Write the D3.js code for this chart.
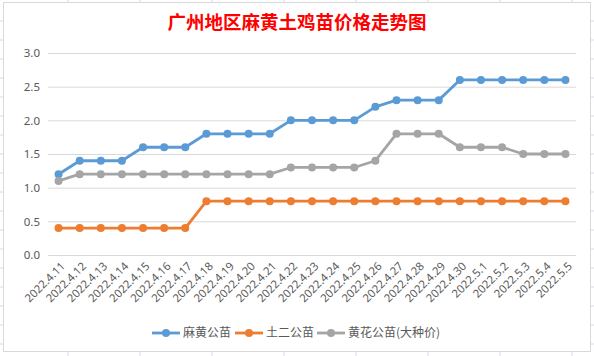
<!DOCTYPE html>
<html>
<head>
<meta charset="utf-8">
<script src="https://cdn.jsdelivr.net/npm/d3@7/dist/d3.min.js"></script>
<style>
  html, body { margin: 0; padding: 0; background: #fff; }
  svg { display: block; }
</style>
</head>
<body>
<svg id="chart" width="594" height="356"></svg>
<script>
// ---- data ----
const dates = ["2022.4.11","2022.4.12","2022.4.13","2022.4.14","2022.4.15","2022.4.16","2022.4.17","2022.4.18","2022.4.19","2022.4.20","2022.4.21","2022.4.22","2022.4.23","2022.4.24","2022.4.25","2022.4.26","2022.4.27","2022.4.28","2022.4.29","2022.4.30","2022.5.1","2022.5.2","2022.5.3","2022.5.4","2022.5.5"];
const mahuang = [1.2,1.4,1.4,1.4,1.6,1.6,1.6,1.8,1.8,1.8,1.8,2.0,2.0,2.0,2.0,2.2,2.3,2.3,2.3,2.6,2.6,2.6,2.6,2.6,2.6];
const tuer    = [0.4,0.4,0.4,0.4,0.4,0.4,0.4,0.8,0.8,0.8,0.8,0.8,0.8,0.8,0.8,0.8,0.8,0.8,0.8,0.8,0.8,0.8,0.8,0.8,0.8];
const huanghua= [1.1,1.2,1.2,1.2,1.2,1.2,1.2,1.2,1.2,1.2,1.2,1.3,1.3,1.3,1.3,1.4,1.8,1.8,1.8,1.6,1.6,1.6,1.5,1.5,1.5];
const seriesNames = ["麻黄公苗","土二公苗","黄花公苗(大种价)"];
const seriesColors = ["#5b9bd5","#ed7d31","#a5a5a5"];
const yTicks = [0,0.5,1.0,1.5,2.0,2.5,3.0];
const title = "广州地区麻黄土鸡苗价格走势图";

const series = [mahuang, tuer, huanghua].map((v,i)=>({name:seriesNames[i], color:seriesColors[i], values:v}));

const svg = d3.select("#chart");

// spreadsheet background grid ticks outside chart box
const gridCol = "#d4dae6";
const bg = svg.append("g");
const colXs = d3.range(68, 594, 72);
const rowYs = d3.range(21, 356, 19);
colXs.forEach(x=>{
  bg.append("line").attr("x1",x).attr("x2",x).attr("y1",0).attr("y2",3).attr("stroke",gridCol);
  bg.append("line").attr("x1",x).attr("x2",x).attr("y1",352).attr("y2",356).attr("stroke",gridCol);
});
rowYs.forEach(y=>{
  bg.append("line").attr("x1",0).attr("x2",3).attr("y1",y).attr("y2",y).attr("stroke",gridCol);
  bg.append("line").attr("x1",591).attr("x2",594).attr("y1",y).attr("y2",y).attr("stroke",gridCol);
});
// chart box
svg.append("rect").attr("x",3.5).attr("y",2.5).attr("width",587).attr("height",349)
  .attr("fill","#fff").attr("stroke","#d9d9d9");

// title
svg.append("text").attr("x",297).attr("y",29).attr("text-anchor","middle")
  .attr("font-family","'Noto Sans CJK SC', sans-serif").attr("font-weight","bold")
  .attr("font-size",18.5).attr("fill","#ff0000").text(title);

// scales
const x = d3.scalePoint().domain(dates).range([48,576]).padding(0.5);
const y = d3.scaleLinear().domain([0,3]).range([255,53]);

// y axis with gridlines
const yAxis = svg.append("g").attr("transform","translate(48,0)")
  .call(d3.axisLeft(y).tickValues(yTicks).tickFormat(d3.format(".1f")).tickSize(-528).tickPadding(8));
yAxis.select(".domain").remove();
yAxis.selectAll(".tick line").attr("stroke","#d9d9d9");
yAxis.selectAll(".tick text").attr("fill","#595959").attr("font-size",11.5)
  .attr("font-family","'Noto Sans', 'DejaVu Sans', sans-serif");

// x axis labels
const xAxis = svg.append("g").attr("transform","translate(0,262)")
  .call(d3.axisBottom(x).tickSize(0).tickPadding(0));
xAxis.select(".domain").remove();
xAxis.selectAll(".tick text")
  .attr("font-family","'Noto Sans', 'DejaVu Sans', sans-serif").attr("font-size",11.3)
  .attr("fill","#595959").attr("text-anchor","end")
  .attr("dy","0.35em").attr("y",0)
  .attr("transform","translate(4,2) rotate(-45)");

// lines
const line = d3.line().x((d,i)=>x(dates[i])).y(d=>y(d));
const gS = svg.append("g");
series.forEach(s=>{
  gS.append("path").datum(s.values).attr("d",line).attr("fill","none")
    .attr("stroke",s.color).attr("stroke-width",2.8).attr("stroke-linejoin","round");
  gS.selectAll(null).data(s.values).enter().append("circle")
    .attr("cx",(d,i)=>x(dates[i])).attr("cy",d=>y(d)).attr("r",4).attr("fill",s.color);
});

// legend
const legendX = [152, 235, 317];
const lg = svg.append("g");
series.forEach((s,i)=>{
  const lx = legendX[i], ly = 333;
  lg.append("line").attr("x1",lx).attr("x2",lx+28).attr("y1",ly).attr("y2",ly)
    .attr("stroke",s.color).attr("stroke-width",2.8);
  lg.append("circle").attr("cx",lx+14).attr("cy",ly).attr("r",4).attr("fill",s.color);
  lg.append("text").attr("x",lx+31).attr("y",ly).attr("dy","0.36em")
    .attr("font-family","'Noto Sans CJK SC', sans-serif").attr("font-size",12)
    .attr("fill","#595959").text(s.name);
});
</script>
</body>
</html>
